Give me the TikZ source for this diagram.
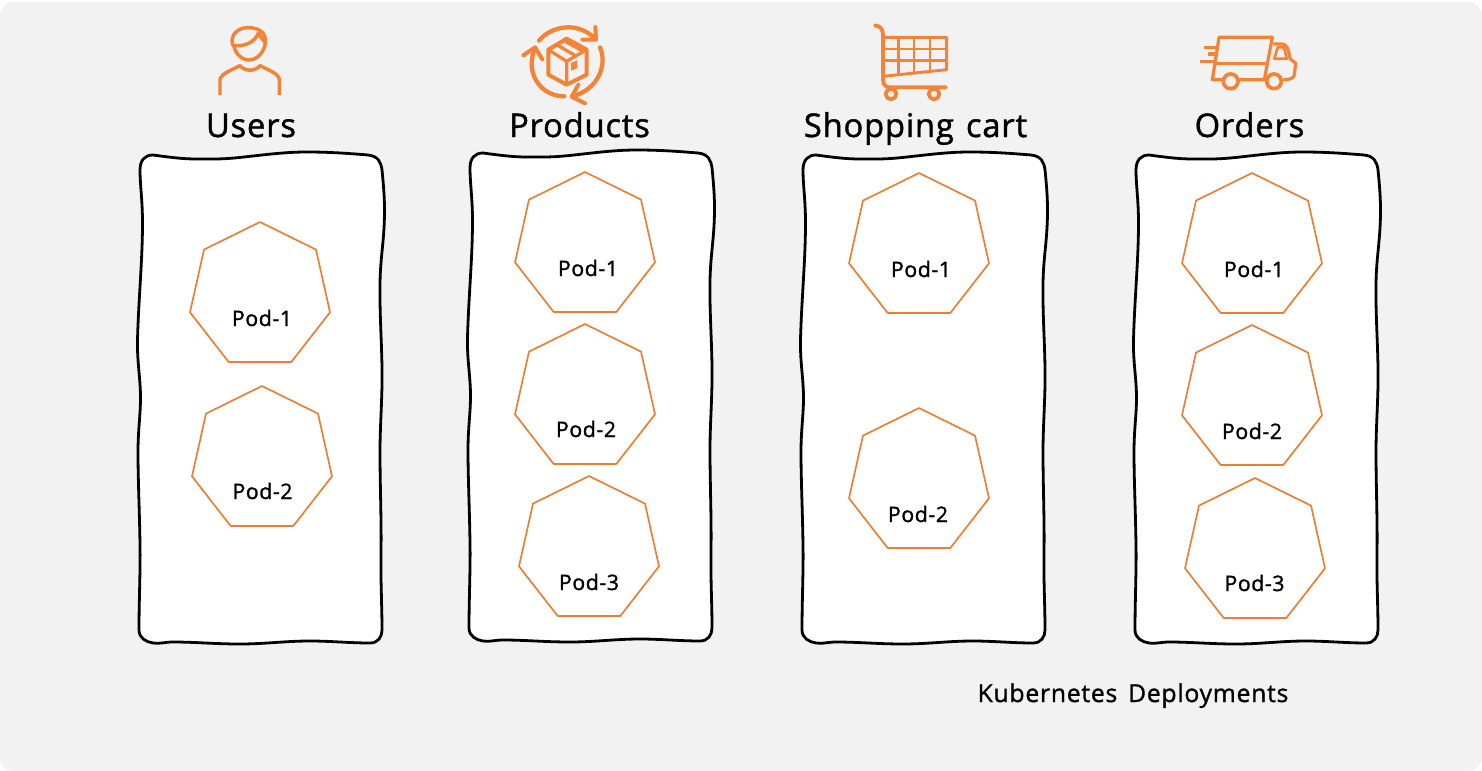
\documentclass[tikz,border=0pt]{standalone}
\usepackage{fontspec}
\setmainfont{Open Sans}
\newfontfamily\titlefont[LetterSpace=2.6,FakeBold=1.3,WordSpace=1.3]{Open Sans}
\newfontfamily\podfont[LetterSpace=2.6,FakeBold=1.2]{Open Sans}
\newfontfamily\capfont[LetterSpace=3.2,FakeBold=1.2,WordSpace=1.5]{Open Sans}
\definecolor{panel}{HTML}{F2F2F2}
\definecolor{podorange}{HTML}{ED7D31}
\definecolor{iconorange}{HTML}{F48335}
\tikzset{
  title/.style={anchor=base,font=\titlefont\fontsize{24.5}{28}\selectfont,text=black,inner sep=0pt},
  podlabel/.style={anchor=base,font=\podfont\fontsize{16}{20}\selectfont,text=black,inner sep=0pt},
  caption/.style={anchor=base,font=\capfont\fontsize{18.5}{22}\selectfont,text=black,inner sep=0pt},
  icon/.style={draw=iconorange,line width=2.6pt,line cap=round,line join=round},
  iconthin/.style={draw=iconorange,line width=2.2pt,line join=round},
  pod/.pic={\draw[podorange,line width=1.25pt,line join=round,fill=white]
    (0,0)--(56,27.6)--(70,90.3)--(31.3,140)--(-31.3,140)--(-70,90.3)--(-56,27.6)--cycle;},
  deploybox/.pic={\draw[black,line width=2.1pt,fill=white,line join=round]
    (153,155) .. controls (175,158) and (185,159) .. (197,159)
    .. controls (225,159.5) and (235,158) .. (253,156)
    .. controls (275,153.5) and (290,152) .. (307,152)
    .. controls (330,152) and (350,153.5) .. (368,155)
    .. controls (378,156) and (381,162) .. (382,170)
    .. controls (384,190) and (384.5,200) .. (384.5,210)
    .. controls (384.5,240) and (380.5,255) .. (380,283)
    .. controls (379.5,320) and (382.5,350) .. (382,385)
    .. controls (381.5,410) and (380,430) .. (380,452)
    .. controls (380,485) and (381.5,520) .. (381,552)
    .. controls (380.5,580) and (382,605) .. (382,630)
    .. controls (382,637) and (378,643) .. (370,643)
    .. controls (350,643) and (330,641) .. (310,641)
    .. controls (285,641) and (265,644) .. (240,644)
    .. controls (215,644) and (195,642) .. (173,642)
    .. controls (165,642) and (160,644) .. (153,643)
    .. controls (146,642) and (139,638) .. (139,630)
    .. controls (139,600) and (140.5,570) .. (140,545)
    .. controls (139.5,510) and (138,480) .. (138,452)
    .. controls (138,430) and (140.5,415) .. (140.5,398)
    .. controls (140.5,378) and (137,362) .. (137.5,340)
    .. controls (138.5,300) and (142.5,260) .. (142.5,223)
    .. controls (142.5,200) and (140,185) .. (140,170)
    .. controls (140,160) and (145,155) .. (153,155) -- cycle;}
}
\begin{document}
\begin{tikzpicture}[x=.75pt,y=-.75pt]
\useasboundingbox (0,0) rectangle (1482,771);
\fill[white] (0,0) rectangle (1482,771);
\fill[panel,rounded corners=10pt] (0,2) rectangle (1482,771);

\pic at (0,0) {deploybox};
\pic at (330,-2) {deploybox};
\pic at (663,0) {deploybox};
\pic at (996,0) {deploybox};

\pic at (260,222) {pod};
\pic at (262,386) {pod};
\pic at (585,172) {pod};
\pic at (585,324) {pod};
\pic at (589,476) {pod};
\pic at (919,173) {pod};
\pic at (919,408) {pod};
\pic at (1252,173) {pod};
\pic at (1252,325) {pod};
\pic at (1255,478) {pod};

\node[title] (tusers) at (251,137) {Users};
\node[title] (tproducts) at (579.5,137) {Products};
\node[title] (tcart) at (915.5,137) {Shopping cart};
\node[title] (torders) at (1249.5,137) {Orders};

\node[podlabel] (u1) at (262,326) {Pod-1};
\node[podlabel] (u2) at (262.5,499) {Pod-2};
\node[podlabel] (p1) at (588,276) {Pod-1};
\node[podlabel] (p2) at (586,437) {Pod-2};
\node[podlabel] (p3) at (589,590) {Pod-3};
\node[podlabel] (c1) at (921,277) {Pod-1};
\node[podlabel] (c2) at (918,522) {Pod-2};
\node[podlabel] (o1) at (1254,277) {Pod-1};
\node[podlabel] (o2) at (1252,439) {Pod-2};
\node[podlabel] (o3) at (1254.5,591) {Pod-3};
\node[caption] (cap) at (1133,702) {Kubernetes Deployments};

% user icon (zoom units: 1/3 px)
\begin{scope}[shift={(190,10)},x=.25pt,y=-.25pt]
  \draw[icon] (128,106) .. controls (118,70) and (150,50) .. (180,53) .. controls (215,55) and (232,75) .. (225,105)
     .. controls (218,135) and (195,150) .. (178,150) .. controls (155,150) and (135,130) .. (132,108);
  \draw[icon] (128,106) .. controls (165,112) and (195,95) .. (205,70) .. controls (212,82) and (220,90) .. (225,98);
  \draw[icon,line cap=butt] (90,255) -- (90,208) .. controls (95,190) and (125,180) .. (150,167)
     .. controls (165,185) and (195,185) .. (210,167) .. controls (235,180) and (265,190) .. (268,208) -- (268,255);
\end{scope}

% products icon
\begin{scope}[shift={(515,18)},x=.25pt,y=-.25pt]
  \draw[icon,line width=3.2pt] (72,68) .. controls (110,22) and (190,10) .. (240,62);
  \draw[icon,line width=3pt] (241,27) -- (243,65) -- (202,65);
  \draw[icon,line width=3.2pt] (255,88) .. controls (278,140) and (250,215) .. (172,235);
  \draw[icon,line width=3pt] (190,200) -- (170,236) -- (210,256);
  \draw[icon,line width=3.2pt] (148,235) .. controls (80,235) and (30,170) .. (58,96);
  \draw[icon,line width=3pt] (25,112) -- (60,88) -- (82,124);
  \draw[iconthin,line width=3pt] (155,62) -- (215,95) -- (215,170) -- (155,200) -- (100,170) -- (100,95) -- cycle;
  \draw[iconthin,line width=2.4pt] (100,95) -- (155,130) -- (215,95) (155,130) -- (155,200);
  \draw[iconthin,line width=2.4pt] (125,80) -- (185,115) (150,70) -- (205,100);
  \fill[iconorange] (168,135) -- (187,127) -- (187,150) -- (168,158) -- cycle;
\end{scope}

% cart icon
\begin{scope}[shift={(865,18)},x=.25pt,y=-.25pt]
  \draw[icon,line width=2.8pt] (30,22) .. controls (48,24) and (54,35) .. (54,52) -- (54,185)
     .. controls (54,200) and (62,208) .. (75,208) -- (243,208);
  \draw[iconthin] (54,58) -- (245,58) -- (245,155) -- (54,175);
  \draw[iconthin] (54,93) -- (245,93) (54,128) -- (245,128);
  \draw[iconthin] (100,58) -- (100,170) (147,58) -- (147,165) (195,58) -- (195,160);
  \draw[iconthin,line width=2.8pt] (78,228) circle [radius=16];
  \draw[iconthin,line width=2.8pt] (207,228) circle [radius=16];
\end{scope}

% truck icon
\begin{scope}[shift={(1195,28)},x=.25pt,y=-.25pt]
  \draw[iconthin,line width=2.4pt] (72,28) -- (232,28) -- (208,155) -- (52,155) -- cycle;
  \draw[iconthin,line width=2.4pt] (60,107) -- (218,107);
  \draw[iconthin,line width=2.4pt] (28,58) -- (68,58) (38,78) -- (62,78) (15,100) -- (60,100);
  \draw[iconthin,line width=2.4pt] (235,48) -- (262,48) .. controls (275,50) and (280,60) .. (285,92)
     -- (302,106) -- (298,140) .. controls (296,150) and (288,155) .. (265,155);
  \draw[iconthin,line width=2pt] (248,58) -- (265,58) .. controls (270,65) and (272,78) .. (275,92) -- (238,92) -- cycle;
  \draw[iconthin,line width=2.8pt,fill=panel] (107,160) circle [radius=22];
  \draw[iconthin,line width=2.8pt,fill=panel] (237,160) circle [radius=22];
\end{scope}
\end{tikzpicture}
\end{document}
